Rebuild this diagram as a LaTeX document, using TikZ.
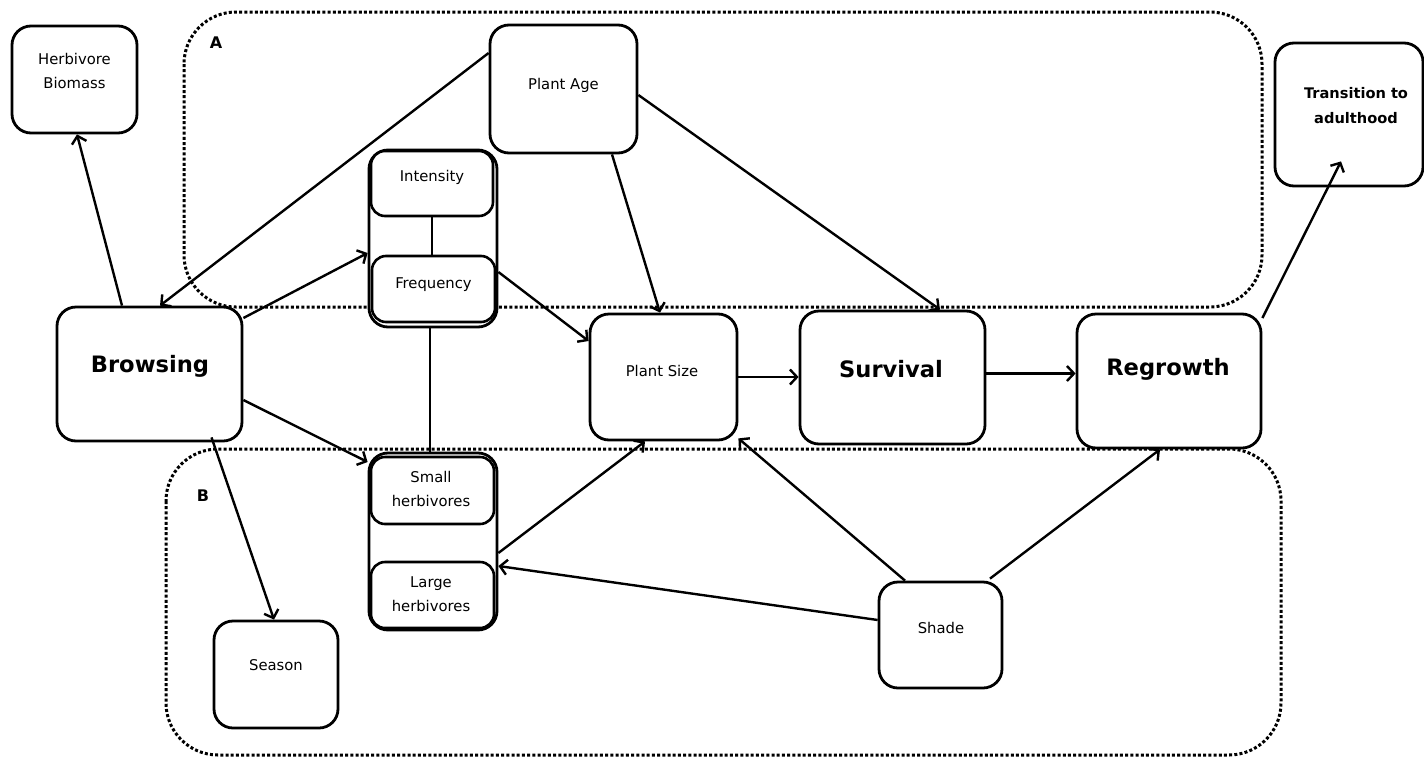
\documentclass[tikz,border=0pt]{standalone}
\usepackage{fontspec}
\setmainfont{DejaVu Sans}
\usetikzlibrary{arrows.meta}
\tikzset{
  box/.style={draw, line width=2.8pt, rounded corners=19pt, inner sep=0pt, fill=white},
  inbox/.style={draw, line width=2.6pt, rounded corners=14pt, inner sep=0pt, fill=white},
  txt/.style={font=\fontsize{14.8}{24}\selectfont, align=center, inner sep=0pt},
  btxt/.style={font=\fontsize{14.6}{25}\selectfont\bfseries, align=center, inner sep=0pt},
  lbl/.style={font=\fontsize{16}{18}\selectfont\bfseries, inner sep=0pt},
  big/.style={font=\fontsize{22.6}{26}\selectfont\bfseries, inner sep=0pt},
  arr/.style={line width=2.4pt, -{Straight Barb[length=7pt,width=15pt]}},
  link/.style={line width=2.4pt},
  region/.style={line width=3pt, dash pattern=on 3pt off 2.2pt, rounded corners=52pt}
}
\begin{document}
\begin{tikzpicture}[x=1pt,y=-1pt]
\useasboundingbox (0,0) rectangle (1424,758);
% regions
\draw[region] (184,12) rectangle (1262,307);
\draw[region] (166,449) rectangle (1281,755);
\node[lbl] (la) at (216,43) {A};
\node[lbl] (lb) at (203,496) {B};
% boxes
\node[box, minimum width=125pt, minimum height=107pt] (hb) at (74.5,79.5) {};
\node[txt] (hbt) at (74.5,71) {Herbivore\\Biomass};
\node[box, minimum width=147pt, minimum height=128pt] (pa) at (563.5,89) {};
\node[txt] (pat) at (563.5,85) {Plant Age};
\node[box, minimum width=128pt, minimum height=177pt] (ifs) at (433,238.5) {};
\node[inbox, minimum width=122pt, minimum height=65pt] (int) at (432,183.5) {};
\node[txt] (intt) at (432,177) {Intensity};
\node[inbox, minimum width=123pt, minimum height=66pt] (frq) at (433.5,289) {};
\node[txt] (frqt) at (433.5,285) {Frequency};
\node[box, minimum width=185pt, minimum height=134pt] (br) at (149.5,374) {};
\node[big] (brt) at (150,366) {Browsing};
\node[box, minimum width=147pt, minimum height=126pt] (ps) at (663.5,377) {};
\node[txt] (pst) at (662,371) {Plant Size};
\node[box, minimum width=185pt, minimum height=133pt] (sv) at (892.5,377.5) {};
\node[big] (svt) at (891,369) {Survival};
\node[box, minimum width=184pt, minimum height=134pt] (rg) at (1169,381) {};
\node[big] (rgt) at (1168,369) {Regrowth};
\node[box, minimum width=148pt, minimum height=143pt] (ta) at (1349,114.5) {};
\node[btxt] (tat) at (1356,105.5) {Transition to\\adulthood};
\node[box, minimum width=128pt, minimum height=177pt] (hs) at (433,541.5) {};
\node[inbox, minimum width=123pt, minimum height=67pt] (sm) at (432.5,490.5) {};
\node[txt] (smt) at (431,489) {Small\\herbivores};
\node[inbox, minimum width=123pt, minimum height=66pt] (lg) at (432.5,595) {};
\node[txt] (lgt) at (431,594) {Large\\herbivores};
\node[box, minimum width=124pt, minimum height=107pt] (se) at (276,674.5) {};
\node[txt] (set) at (276,665) {Season};
\node[box, minimum width=123pt, minimum height=106pt] (sh) at (940.5,635) {};
\node[txt] (sht) at (941,628) {Shade};
% links
\draw[link] (int.south) -- (int.south |- frq.north);
\draw[link] ([xshift=-3pt]ifs.south) -- ([xshift=-3pt]hs.north);
% arrows
\draw[arr] ([xshift=-27.5pt]br.north) -- ([xshift=2.5pt]hb.south);
\draw[arr] ([yshift=36pt]pa.west) -- ([xshift=10.5pt]br.north);
\draw[arr] ([yshift=56pt]br.east) -- ([yshift=-14.5pt]ifs.west);
\draw[arr] ([yshift=-26pt]br.east) -- ([yshift=79.5pt]hs.west);
\draw[arr] ([xshift=62pt,yshift=5pt]br.south) -- ([xshift=-2pt]se.north);
\draw[arr] ([yshift=-33.5pt]ifs.east) -- ([yshift=36pt]ps.west);
\draw[arr] ([xshift=48.5pt]pa.south) -- ([xshift=-3.5pt]ps.north);
\draw[arr] ([yshift=-6pt]pa.east) -- ([xshift=47.5pt]sv.north);
\draw[arr] (ps.east) -- (ps.east -| sv.west);
\draw[arr] ([yshift=4pt]sv.east) -- ([yshift=4pt]sv.east -| rg.west);
\draw[arr] ([yshift=63pt]rg.east) -- ([xshift=-8pt,yshift=26pt]ta.south);
\draw[arr] ([yshift=-11.5pt]hs.east) -- ([xshift=-18.5pt]ps.south);
\draw[arr] ([xshift=-35.5pt]sh.north) -- ([yshift=3pt]ps.south east);
\draw[arr] ([xshift=49.5pt,yshift=2pt]sh.north) -- ([xshift=-9pt]rg.south);
\draw[arr] ([yshift=15pt]sh.west) -- ([yshift=-24.5pt]hs.east);
\end{tikzpicture}
\end{document}
